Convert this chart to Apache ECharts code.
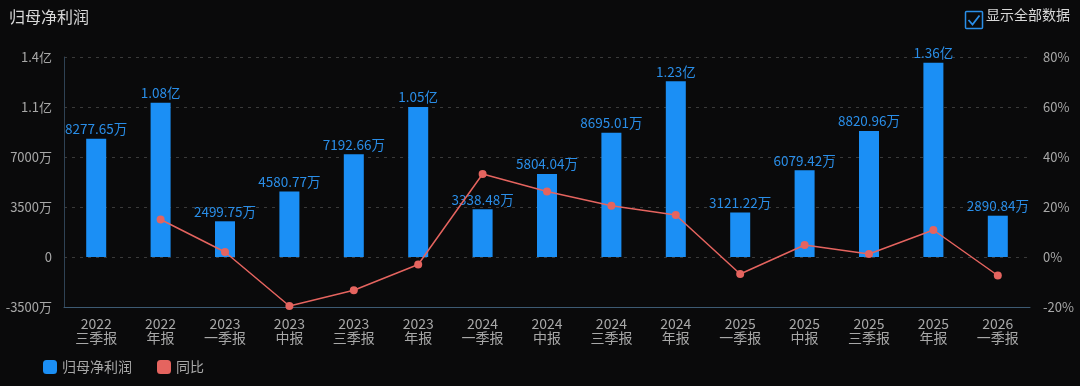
<!DOCTYPE html>
<html><head><meta charset="utf-8">
<script src="https://cdn.jsdelivr.net/npm/echarts@6/dist/echarts.min.js"></script>
<style>html,body{margin:0;padding:0;background:#0a0a0b;}#c{width:1080px;height:386px;}</style>
</head><body><div id="c"></div>
<script>
const categories = ['2022\n三季报','2022\n年报','2023\n一季报','2023\n中报','2023\n三季报','2023\n年报','2024\n一季报','2024\n中报','2024\n三季报','2024\n年报','2025\n一季报','2025\n中报','2025\n三季报','2025\n年报','2026\n一季报'];
// 归母净利润, unit 万
const profit = [8277.65, 10800, 2499.75, 4580.77, 7192.66, 10500, 3338.48, 5804.04, 8695.01, 12300, 3121.22, 6079.42, 8820.96, 13600, 2890.84];
// 同比, unit %
const yoy = [null, 15, 2, -19.6, -13.3, -3, 33.2, 26.2, 20.5, 16.8, -6.8, 4.8, 1.2, 10.8, -7.4];

const font = '"Noto Sans CJK SC", "Noto Sans", sans-serif';
function fmtVal(v){ return v >= 10000 ? (v/10000).toFixed(2) + '亿' : v.toFixed(2) + '万'; }
function fmtAxis(v){ if (v === 0) return '0'; if (Math.abs(v) >= 10000) return +(v/10000).toFixed(1) + '亿'; return v + '万'; }

const chart = echarts.init(document.getElementById('c'), null, {renderer:'canvas'});
chart.setOption({
  backgroundColor: '#0a0a0b',
  textStyle: {fontFamily: font},
  title: {text: '归母净利润', left: 4, top: 4, textStyle: {color: '#d8d8d8', fontSize: 16, fontWeight: 'normal', fontFamily: font}},
  legend: {
    left: 38, bottom: 7, itemWidth: 14, itemHeight: 14, itemGap: 25, icon: 'roundRect',
    textStyle: {color: '#a8a8a8', fontSize: 14, fontFamily: font},
    data: ['归母净利润', '同比']
  },
  grid: {left: 64, right: 50, top: 57, bottom: 79},
  xAxis: {
    type: 'category', data: categories,
    axisLine: {onZero: false, lineStyle: {color: '#3d5a73'}},
    axisTick: {show: false},
    axisLabel: {color: '#a8a8a8', fontSize: 14, lineHeight: 14, margin: 10, interval: 0, fontFamily: font}
  },
  yAxis: [{
    type: 'value', min: -3500, max: 14000, interval: 3500,
    axisLine: {show: true, lineStyle: {color: '#2f4254'}},
    axisTick: {show: false},
    axisLabel: {color: '#a8a8a8', fontSize: 13, formatter: fmtAxis, margin: 12, fontFamily: font},
    splitLine: {lineStyle: {color: '#3a3a3a', type: [3, 5]}}
  }, {
    type: 'value', min: -20, max: 80, interval: 20,
    axisLine: {show: false}, axisTick: {show: false},
    axisLabel: {color: '#a8a8a8', fontSize: 13, formatter: '{value}%', margin: 13, fontFamily: font},
    splitLine: {show: false}
  }],
  series: [{
    name: '归母净利润', type: 'bar', data: profit, barWidth: 20,
    itemStyle: {color: '#1b8ff5'},
    label: {show: true, position: 'top', distance: 3, color: '#2a8ee8', fontSize: 13.5, fontFamily: font, formatter: p => fmtVal(p.value)}
  }, {
    name: '同比', type: 'line', yAxisIndex: 1, data: yoy,
    itemStyle: {color: '#e5645f'}, lineStyle: {color: '#e5645f', width: 1.5},
    symbol: 'circle', symbolSize: 8, z: 5
  }],
  graphic: [
    {type: 'rect', left: 963, top: 9, shape: {width: 17, height: 17, r: 1}, style: {fill: 'none', stroke: '#2a8ee8', lineWidth: 1.5}},
    {type: 'polyline', left: 966, top: 13, shape: {points: [[0,4.5],[4,9],[11,0]]}, style: {fill: 'none', stroke: '#2a8ee8', lineWidth: 1.8}},
    {type: 'text', left: 986, top: 8, style: {text: '显示全部数据', fill: '#d8d8d8', fontSize: 14, fontFamily: font}}
  ]
});
</script></body></html>
